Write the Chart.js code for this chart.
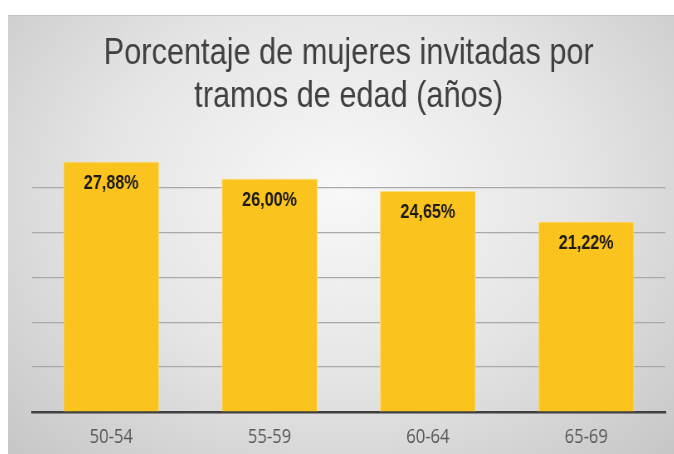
<!DOCTYPE html>
<html>
<head>
<meta charset="utf-8">
<script src="https://cdn.jsdelivr.net/npm/chart.js@4"></script>
<style>
  html, body { margin: 0; padding: 0; background: #fff; }
  #frame {
    position: absolute; left: 8px; top: 15px; width: 666px; height: 439px;
    background: radial-gradient(ellipse at 50% 40%, #f8f8f8 0%, #e5e5e5 50%, #c6c6c6 100%);
    border-top: 1px solid #c4c4c4;
    box-sizing: border-box;
    overflow: hidden;
  }
  /* el gráfico original está comprimido en horizontal */
  #wrap {
    position: absolute; left: 0; top: 0; width: 802px; height: 452px;
    transform: scaleX(0.83); transform-origin: 0 0;
  }
</style>
</head>
<body>
<div id="frame"><div id="wrap"><canvas id="chart"></canvas></div></div>
<script>
const categories = ['50-54', '55-59', '60-64', '65-69'];
const valores = [27.88, 26.00, 24.65, 21.22];
const titulo = ['Porcentaje de mujeres invitadas por', 'tramos de edad (años)'];

// etiquetas de datos dentro de la barra
const etiquetas = {
  id: 'etiquetas',
  afterDatasetsDraw(chart) {
    const ctx = chart.ctx;
    const meta = chart.getDatasetMeta(0);
    ctx.save();
    ctx.font = 'bold 19.5px "Liberation Sans", Arial, sans-serif';
    ctx.fillStyle = '#1a1a1a';
    ctx.textAlign = 'center';
    ctx.textBaseline = 'middle';
    meta.data.forEach((bar, i) => {
      const txt = valores[i].toFixed(2).replace('.', ',') + '%';
      ctx.fillText(txt, bar.x, bar.y + 22);
    });
    ctx.restore();
  }
};

new Chart(document.getElementById('chart'), {
  type: 'bar',
  data: {
    labels: categories,
    datasets: [{
      data: valores,
      backgroundColor: '#FAC31E',
      borderColor: '#FFE28A',
      borderWidth: 1,
      barPercentage: 0.607,
      categoryPercentage: 1
    }]
  },
  options: {
    responsive: true,
    maintainAspectRatio: false,
    animation: false,
    layout: { padding: { left: 29, right: 10, top: 0, bottom: 6 } },
    scales: {
      x: {
        grid: { display: false, drawTicks: false },
        border: { display: true, color: '#404040', width: 2.5 },
        ticks: {
          padding: 13,
          color: '#595959',
          font: { family: '"Open Sans", sans-serif', size: 20 }
        }
      },
      y: {
        min: 0,
        max: 30,
        ticks: { display: false, stepSize: 5 },
        border: { display: false },
        grid: {
          drawTicks: false,
          lineWidth: 1.2,
          color: (c) => (c.tick && (c.tick.value === 0 || c.tick.value === 30)) ? 'rgba(0,0,0,0)' : '#a9a9a9'
        }
      }
    },
    plugins: {
      legend: { display: false },
      tooltip: { enabled: false },
      title: {
        display: true,
        text: titulo,
        color: '#404040',
        font: { family: '"Liberation Sans", Arial, sans-serif', size: 37, weight: 'normal', lineHeight: 1.17 },
        padding: { top: 16, bottom: 24 }
      }
    }
  },
  plugins: [etiquetas]
});
</script>
</body>
</html>
